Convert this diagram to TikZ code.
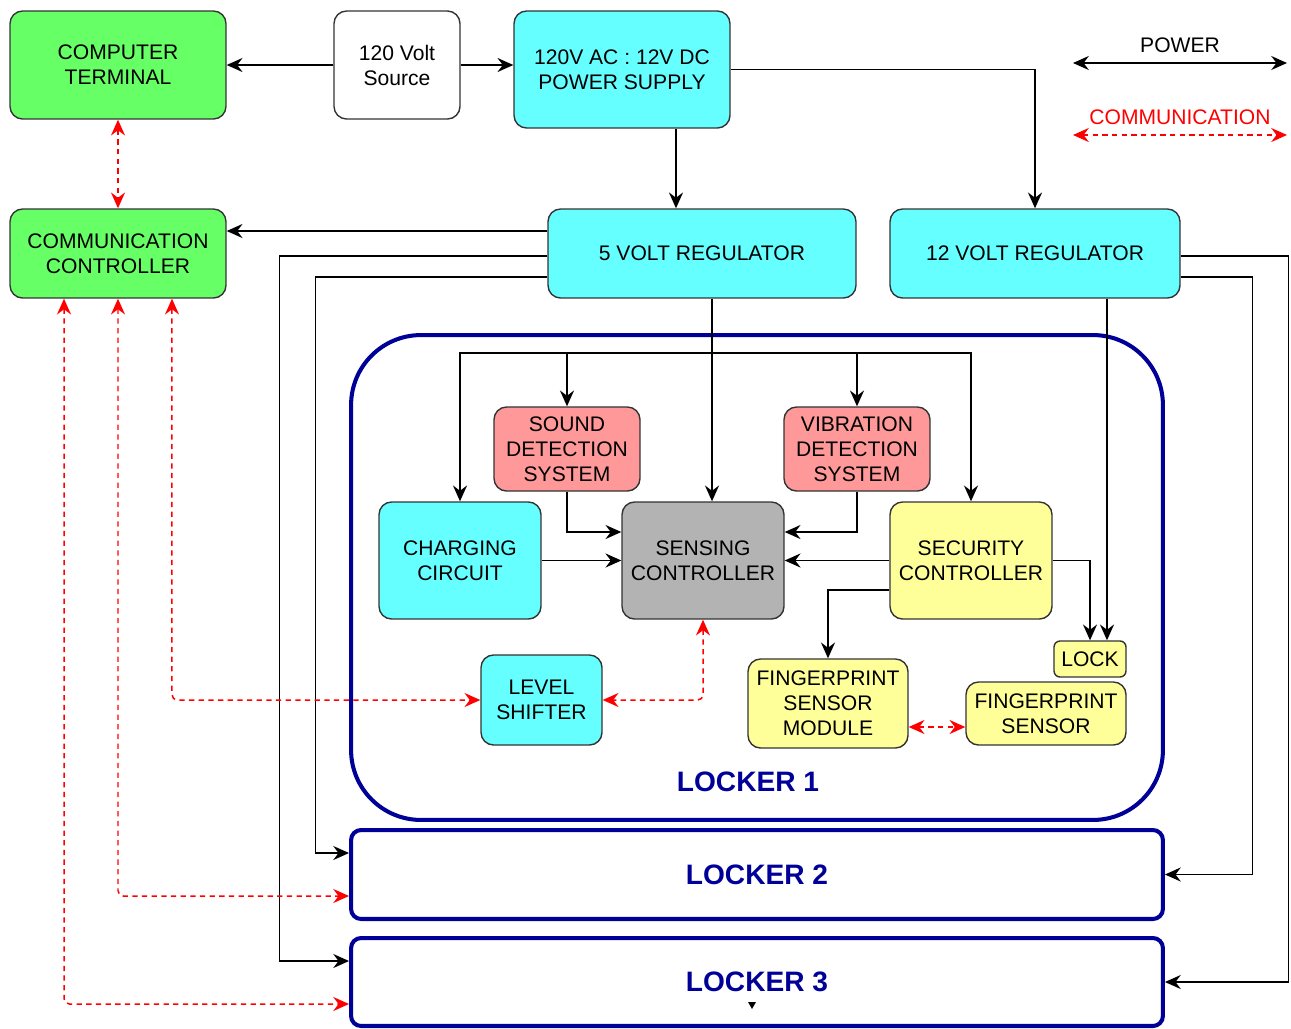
\documentclass[tikz,border=0pt]{standalone}
\usepackage{fontspec}
\setmainfont{Liberation Sans}
\usepackage{tikz}
\usetikzlibrary{shapes, arrows.meta, calc, positioning}
\definecolor{grn}{HTML}{66FF66}
\definecolor{cyn}{HTML}{66FFFF}
\definecolor{pnk}{HTML}{FF9999}
\definecolor{gry}{HTML}{B3B3B3}
\definecolor{ylw}{HTML}{FFFF99}
\definecolor{navy}{HTML}{000099}
\definecolor{boxline}{HTML}{333333}
\tikzset{
    blk/.style ={rectangle, rounded corners=0.25cm, draw=boxline, line width=0.8pt, align=center, inner sep=2pt, font=\fontsize{12}{14.2}\selectfont},
    tip/.tip = {Stealth[length=9pt,width=8pt,inset=3pt]},
    pwrline/.style = {-tip, line width=0.85pt},
    comline/.style = {tip-tip, red, line width=0.85pt, dash pattern=on 3pt off 2.5pt, rounded corners=3pt},
    locklab/.style = {font=\fontsize{16}{19}\selectfont\bfseries, text=navy},
    locker/.style = {locklab, rectangle, draw=navy, line width=2.3pt, rounded corners=0.2cm, minimum width=16.24cm}
}
\begin{document}
\begin{tikzpicture}[x=0.02cm, y=-0.02cm]
  \useasboundingbox (0,0) rectangle (1291,1028);

  % top row
  \node[blk, fill=grn, minimum width=4.32cm, minimum height=2.16cm] (ct) at (118,65) {COMPUTER\\TERMINAL};
  \node[blk, fill=white, minimum width=2.52cm, minimum height=2.16cm] (src) at (397,65) {120 Volt\\Source};
  \node[blk, fill=cyn, minimum width=4.32cm, minimum height=2.34cm] (ps) at (622,69.5) {120V AC : 12V DC\\POWER SUPPLY};
  \node[blk, fill=grn, minimum width=4.32cm, minimum height=1.78cm] (cc) at (118,253.5) {COMMUNICATION\\CONTROLLER};
  \node[blk, fill=cyn, minimum width=6.16cm, minimum height=1.78cm] (r5) at (702,253.5) {5 VOLT REGULATOR};
  \node[blk, fill=cyn, minimum width=5.8cm, minimum height=1.78cm] (r12) at (1035,253.5) {12 VOLT REGULATOR};

  % lockers
  \node[locker, rounded corners=1.4cm, minimum height=9.7cm] (l1) at (757,577.5) {};
  \node[locklab] (l1t) at (748,782) {LOCKER 1};
  \node[locker, minimum height=1.78cm] (l2) at (757,874.5) {LOCKER 2};
  \node[locker, minimum height=1.76cm] (l3) at (757,982) {LOCKER 3};
  \fill (748,1002) -- (756,1002) -- (752,1009) -- cycle;

  % locker 1 parts
  \node[blk, fill=pnk, minimum width=2.92cm, minimum height=1.68cm] (snd) at (567,449) {SOUND\\DETECTION\\SYSTEM};
  \node[blk, fill=pnk, minimum width=2.92cm, minimum height=1.68cm] (vib) at (857,449) {VIBRATION\\DETECTION\\SYSTEM};
  \node[blk, fill=cyn, minimum width=3.24cm, minimum height=2.34cm] (chg) at (460,560.5) {CHARGING\\CIRCUIT};
  \node[blk, fill=gry, minimum width=3.24cm, minimum height=2.34cm] (sens) at (703,560.5) {SENSING\\CONTROLLER};
  \node[blk, fill=ylw, minimum width=3.24cm, minimum height=2.34cm] (sec) at (971,560.5) {SECURITY\\CONTROLLER};
  \node[blk, fill=ylw, rounded corners=0.12cm, minimum width=1.44cm, minimum height=0.72cm] (lock) at (1090,659) {LOCK};
  \node[blk, fill=ylw, minimum width=3.2cm, minimum height=1.78cm] (fsm) at (828,703.5) {FINGERPRINT\\SENSOR\\MODULE};
  \node[blk, fill=ylw, minimum width=3.2cm, minimum height=1.26cm] (fs) at (1046,713.5) {FINGERPRINT\\SENSOR};
  \node[blk, fill=cyn, minimum width=2.42cm, minimum height=1.8cm] (ls) at (541.5,700) {LEVEL\\SHIFTER};

  % legend
  \node[blk, draw=none] (pwt) at (1180,45) {POWER};
  \node[blk, draw=none, text=red] (cmt) at (1180,117) {COMMUNICATION};
  \coordinate (pa) at (1073,63);
  \coordinate (pb) at (1287,63);
  \coordinate (ca) at (1073,135);
  \coordinate (cb) at (1287,135);
  \draw[pwrline, tip-tip] (pa) -- (pb);
  \draw[comline] (ca) -- (cb);

  % power
  \draw[pwrline] (src.west) -- (ct.east);
  \draw[pwrline] (src.east) -- (src.east -| ps.west);
  \draw[pwrline] ([xshift=1.08cm]ps.south) -- ([xshift=1.08cm]ps.south |- r5.north);
  \draw[pwrline] (ps.east) -| (r12.north);
  \draw[pwrline] ([yshift=0.45cm]r5.west) -- ([yshift=0.45cm]r5.west -| cc.east);
  \draw[pwrline] ([yshift=-0.05cm]r5.west) -- ++(-268,0) |- ([yshift=0.42cm]l3.west);
  \draw[pwrline] ([yshift=-0.47cm]r5.west) -- ++(-232,0) |- ([yshift=0.43cm]l2.west);
  \draw[pwrline] ([xshift=0.2cm]r5.south) -- ([xshift=0.2cm]r5.south |- sens.north);
  \coordinate (bus) at (712,353);
  \draw[pwrline] (bus) -| (chg.north);
  \draw[pwrline] (bus) -| (snd.north);
  \draw[pwrline] (bus) -| (vib.north);
  \draw[pwrline] (bus) -| (sec.north);
  \draw[pwrline] (snd.south) |- ([yshift=0.57cm]sens.west);
  \draw[pwrline] (chg.east) -- (sens.west);
  \draw[pwrline] (vib.south) |- ([yshift=0.57cm]sens.east);
  \draw[pwrline] (sec.west) -- (sens.east);
  \draw[pwrline] ([yshift=-0.59cm]sec.west) -| (fsm.north);
  \draw[pwrline] (sec.east) -| (lock.north);
  \draw[pwrline] ([xshift=1.44cm]r12.south) -- ([xshift=1.44cm]r12.south |- lock.north);
  \draw[pwrline] ([yshift=-0.05cm]r12.east) -- ++(108,0) |- (l3.east);
  \draw[pwrline] ([yshift=-0.47cm]r12.east) -- ++(72,0) |- (l2.east);

  % communication
  \draw[comline] (ct.south) -- (cc.north);
  \draw[comline] ([xshift=-1.08cm]cc.south) |- ([yshift=-0.44cm]l3.west);
  \draw[comline] (cc.south) |- ([yshift=-0.43cm]l2.west);
  \draw[comline] ([xshift=1.08cm]cc.south) |- (ls.west);
  \draw[comline] (sens.south) |- (ls.east);
  \draw[comline] ([yshift=-0.47cm]fsm.east) -- ([yshift=-0.47cm]fsm.east -| fs.west);
\end{tikzpicture}
\end{document}
